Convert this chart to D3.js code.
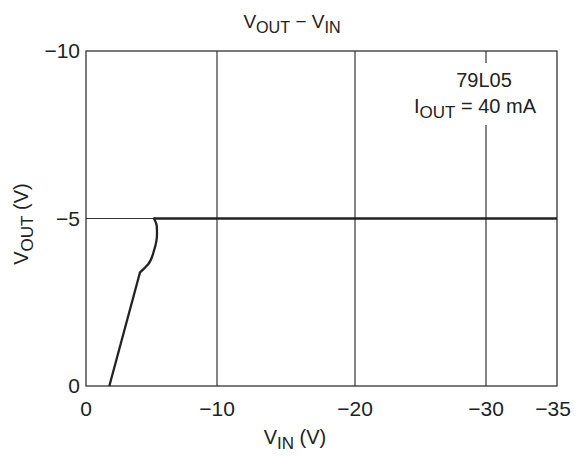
<!DOCTYPE html>
<html>
<head>
<meta charset="utf-8">
<script src="https://cdn.jsdelivr.net/npm/d3@7"></script>
<style>
body { margin: 0; background: #fff; }
text { font-family: "Liberation Sans", Arial, sans-serif; fill: #222; }
</style>
</head>
<body>
<div id="chart"></div>
<script>
// V_OUT vs V_IN, 79L05 at 40 mA
var xTicks = [0, -10, -20, -30, -35];
var yTicks = [0, -5, -10];
var lineVin = [-1.78, -4.12];
var lineVout = [0, -3.39];
var kneeVin = [-4.12, -4.76, -5.19, -5.42, -5.40, -5.19];
var kneeVout = [-3.39, -3.64, -4.04, -4.54, -4.78, -5.0];
var flatVin = [-5.19, -35];
var flatVout = [-5.0, -5.0];

var w = 577, h = 457;
var pLeft = 86, pRight = 557, pTop = 51, pBottom = 386;

var svg = d3.select("#chart").append("svg")
	.attr("width", w)
	.attr("height", h);

// the printed axis is not quite even, so map each tick to where it sits
var x = d3.scaleLinear().domain(xTicks).range([pLeft, 217, 355, 486, pRight]);
var y = d3.scaleLinear().domain([0, -10]).range([pBottom, pTop]);

var grid = "#333";

// grid lines
svg.selectAll(".vgrid")
	.data(xTicks.slice(1, 4))
	.enter().append("line")
	.attr("x1", function(d) {return x(d);})
	.attr("x2", function(d) {return x(d);})
	.attr("y1", pTop).attr("y2", pBottom)
	.attr("stroke", grid).attr("stroke-width", 1.2);

svg.append("line")
	.attr("x1", pLeft).attr("x2", pRight)
	.attr("y1", y(-5)).attr("y2", y(-5))
	.attr("stroke", grid).attr("stroke-width", 1.2);

// frame
svg.append("rect")
	.attr("x", pLeft).attr("y", pTop)
	.attr("width", pRight - pLeft).attr("height", pBottom - pTop)
	.attr("fill", "none").attr("stroke", grid).attr("stroke-width", 1.3);

// annotation box hides grid line behind it
svg.append("rect")
	.attr("x", 402).attr("y", 63)
	.attr("width", 146).attr("height", 62)
	.attr("fill", "#fff");

// data curve
function pts(a, b) {return a.map(function(d, i) {return [d, b[i]];});}

var line = d3.line()
	.x(function(d) {return x(d[0]);})
	.y(function(d) {return y(d[1]);});

svg.append("path")
	.attr("d", line(pts(lineVin, lineVout)))
	.attr("fill", "none").attr("stroke", "#222").attr("stroke-width", 2.3);

svg.append("path")
	.attr("d", line.curve(d3.curveMonotoneY)(pts(kneeVin, kneeVout)))
	.attr("fill", "none").attr("stroke", "#222").attr("stroke-width", 2.3)
	.attr("stroke-linecap", "round");

svg.append("path")
	.attr("d", line.curve(d3.curveLinear)(pts(flatVin, flatVout)))
	.attr("fill", "none").attr("stroke", "#222").attr("stroke-width", 2.3);

// tick labels
svg.selectAll(".xlab")
	.data(xTicks)
	.enter().append("text")
	.attr("x", function(d) {return d == -35 ? x(d) - 4 : x(d);})
	.attr("y", 416)
	.attr("text-anchor", "middle")
	.attr("font-size", "21px")
	.text(function(d) {return d == 0 ? "0" : "\u2212" + Math.abs(d);});

svg.selectAll(".ylab")
	.data(yTicks)
	.enter().append("text")
	.attr("x", pLeft - 6)
	.attr("y", function(d) {return y(d) + 7;})
	.attr("text-anchor", "end")
	.attr("font-size", "21px")
	.text(function(d) {return d == 0 ? "0" : "\u2212" + Math.abs(d);});

// text with subscripts
function sub(t, parts, size) {
	t.attr("font-size", size + "px");
	parts.forEach(function(p) {
		t.append("tspan")
			.attr("font-size", p[1] ? (size * 0.85) + "px" : size + "px")
			.attr("dy", p[1] ? 5 : (p[2] ? -5 : 0))
			.text(p[0]);
	});
}

var title = svg.append("text")
	.attr("x", 292).attr("y", 28)
	.attr("text-anchor", "middle");
sub(title, [["V"], ["OUT", true], [" \u2212  V", false, true], ["IN", true]], 19);

var xt = svg.append("text")
	.attr("x", 295).attr("y", 444)
	.attr("text-anchor", "middle");
sub(xt, [["V"], ["IN", true], [" (V)", false, true]], 20);

var yt = svg.append("text")
	.attr("transform", "translate(28,224) rotate(-90)")
	.attr("text-anchor", "middle");
sub(yt, [["V"], ["OUT", true], [" (V)", false, true]], 20);

svg.append("text")
	.attr("x", 484).attr("y", 87)
	.attr("text-anchor", "middle")
	.attr("font-size", "20px")
	.text("79L05");

var io = svg.append("text")
	.attr("x", 475).attr("y", 113)
	.attr("text-anchor", "middle");
sub(io, [["I"], ["OUT", true], [" = 40 mA", false, true]], 20);
</script>
</body>
</html>
